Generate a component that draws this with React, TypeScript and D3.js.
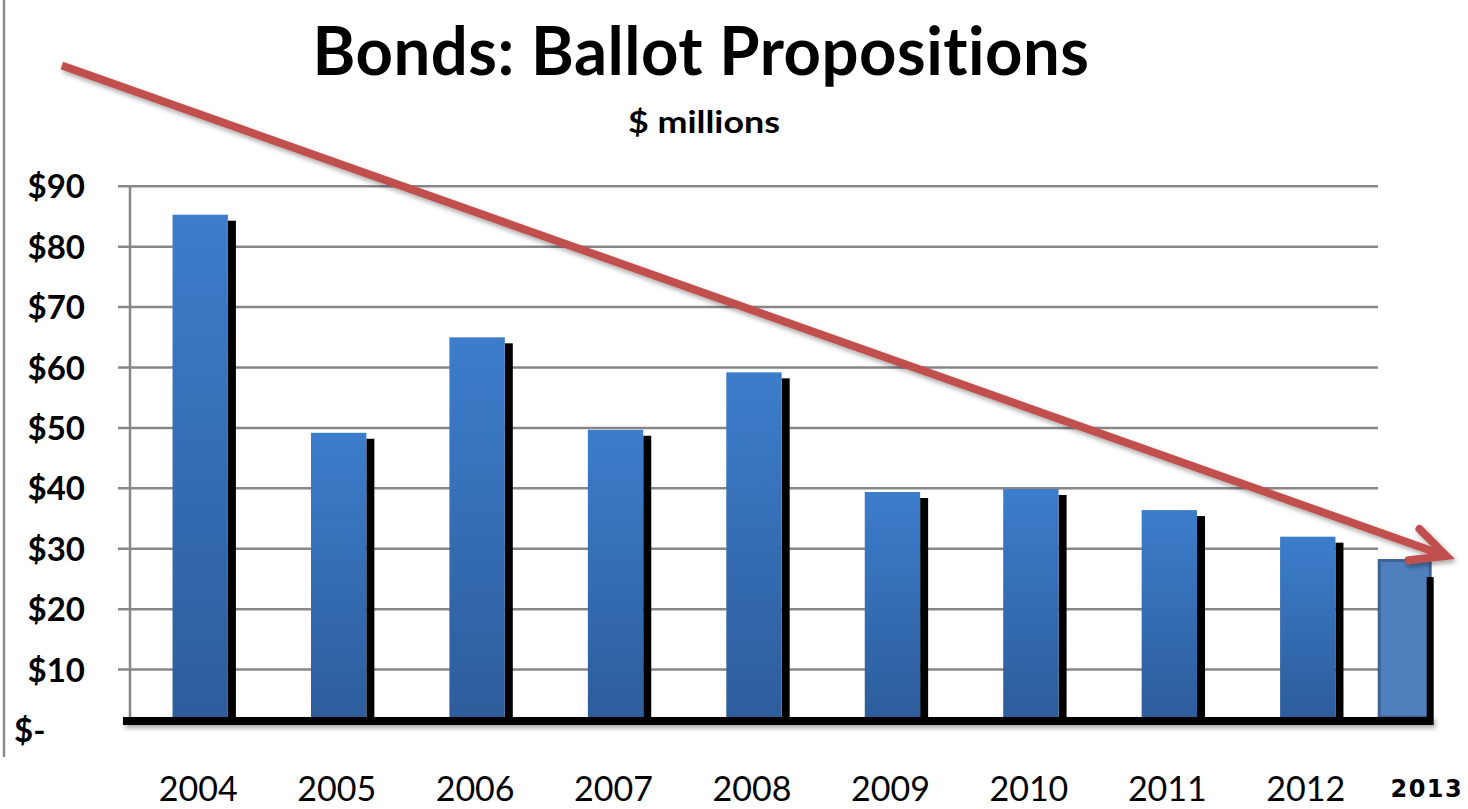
import * as d3 from "d3";

// bond totals, $ millions
const years = ["2004", "2005", "2006", "2007", "2008", "2009", "2010", "2011", "2012"];
const amounts = [85.3, 49.2, 65, 49.7, 59.2, 39.4, 39.9, 36.4, 32.0];
const projectedYear = "2013";
const projectedAmount = 28.3;
const yTicks = [0, 10, 20, 30, 40, 50, 60, 70, 80, 90];
// trend arrow in [category index, value]
const trendFrom = [-1, 110];
const trendTo = [9, 28.8];

const W = 1468;
const H = 809;
const FONT = "Lato, 'Open Sans', sans-serif";
const noLig = { fontVariantLigatures: "none", fontFeatureSettings: '"liga" 0, "clig" 0, "dlig" 0' };

export default function App() {
  const x = d3.scaleBand<string>().domain(years).range([131, 1377]).paddingInner(0.6).paddingOuter(0.3);
  const y = d3.scaleLinear().domain([0, 90]).range([730, 186.3]);
  const bw = x.bandwidth();
  const step = x.step();
  const idx = d3
    .scaleLinear()
    .domain([0, 1])
    .range([(x(years[0]) ?? 0) + bw / 2, (x(years[0]) ?? 0) + bw / 2 + step]);

  const baseTop = y(0) - 13;
  const gridX0 = x.range()[0] - 13;
  const gridX1 = x.range()[1] + 1;

  // arrow geometry
  const ax0 = idx(trendFrom[0]);
  const ay0 = y(trendFrom[1]);
  const ax1 = idx(trendTo[0]);
  const ay1 = y(trendTo[1]);
  const ang = Math.atan2(ay1 - ay0, ax1 - ax0);
  const armLen = 38;
  const armA = 0.45;
  const p1 = [ax1 - armLen * Math.cos(ang - armA), ay1 - armLen * Math.sin(ang - armA)];
  const p2 = [ax1 - armLen * Math.cos(ang + armA), ay1 - armLen * Math.sin(ang + armA)];
  const linePath = d3.path();
  linePath.moveTo(ax0, ay0);
  linePath.lineTo(ax1 - 4 * Math.cos(ang), ay1 - 4 * Math.sin(ang));
  const headPath = d3.path();
  headPath.moveTo(p1[0], p1[1]);
  headPath.lineTo(ax1, ay1);
  headPath.lineTo(p2[0], p2[1]);

  const projX = idx(8.7) - 27;
  const projW = 54;

  return (
    <svg width={W} height={H} style={{ position: "absolute", left: 0, top: 0, background: "#fff", ...noLig }}>
      <defs>
        <linearGradient id="barGrad" x1="0" y1="0" x2="0" y2="1">
          <stop offset="0" stopColor="#3c7dcc" />
          <stop offset="1" stopColor="#2d5d9b" />
        </linearGradient>
        <filter id="shadow" x="-5%" y="-20%" width="110%" height="200%">
          <feDropShadow dx="2" dy="3" stdDeviation="2.5" floodColor="#000" floodOpacity="0.35" />
        </filter>
      </defs>

      {/* left frame edge */}
      <line x1={4} x2={4} y1={0} y2={757} stroke="#8a8a8a" strokeWidth={2.5} />

      <text x={701} y={75} textAnchor="middle" fontFamily={FONT} fontWeight={700} fontSize={67}
        letterSpacing={0.5} textLength={777} lengthAdjust="spacingAndGlyphs" fill="#000" style={noLig}>
        Bonds: Ballot Propositions
      </text>
      <text x={704} y={133} textAnchor="middle" fontFamily={FONT} fontWeight={700} fontSize={31}
        textLength={152} lengthAdjust="spacingAndGlyphs" fill="#000">
        $ millions
      </text>

      {/* gridlines */}
      {yTicks.filter((t) => t > 0).map((t) => (
        <line key={t} x1={gridX0} x2={gridX1} y1={y(t)} y2={y(t)} stroke="#878787" strokeWidth={2.5} />
      ))}
      <line x1={gridX0 + 12} x2={gridX0 + 12} y1={y(90)} y2={baseTop} stroke="#878787" strokeWidth={2.5} />

      {/* y labels */}
      {yTicks.map((t) => (
        <text key={t} x={t === 0 ? 14 : 85} y={y(t) + 12} textAnchor={t === 0 ? "start" : "end"}
          fontFamily={FONT} fontWeight={700} fontSize={33} fill="#000">
          {t === 0 ? "$-" : `$${t}`}
        </text>
      ))}

      {/* bars with black side */}
      {years.map((yr, i) => (
        <g key={yr}>
          <rect x={(x(yr) ?? 0) + bw} y={y(amounts[i]) + 6} width={8} height={baseTop - y(amounts[i]) - 6} fill="#000" />
          <rect x={x(yr)} y={y(amounts[i])} width={bw} height={baseTop - y(amounts[i])} fill="url(#barGrad)" />
        </g>
      ))}

      {/* projected 2013 */}
      <rect x={projX + 1.5} y={y(projectedAmount) + 1.5} width={projW - 3} height={baseTop - y(projectedAmount) - 1.5}
        fill="#4f80bd" stroke="#3b6394" strokeWidth={3} />
      <rect x={projX + projW - 5} y={y(projectedAmount) + 18} width={7} height={baseTop - y(projectedAmount) - 18} fill="#000" />

      {/* baseline */}
      <rect x={gridX0 + 5} y={baseTop} width={projX + projW - gridX0 - 3} height={8} fill="#000" filter="url(#shadow)" />

      {/* x labels */}
      {years.map((yr) => (
        <text key={yr} x={(x(yr) ?? 0) + bw / 2 - 2} y={801} textAnchor="middle" fontFamily={FONT} fontSize={34} fill="#000">
          {yr}
        </text>
      ))}
      <text x={idx(8.86)} y={797} textAnchor="middle" fontFamily="'DejaVu Sans', sans-serif" fontWeight={700}
        fontSize={24} letterSpacing={1.5} fill="#000">
        {projectedYear}
      </text>

      {/* trend arrow */}
      <g filter="url(#shadow)">
        <path d={linePath.toString()} fill="none" stroke="#c0504d" strokeWidth={8} />
        <path d={headPath.toString()} fill="none" stroke="#c0504d" strokeWidth={8} strokeLinecap="round"
          strokeLinejoin="miter" />
      </g>
    </svg>
  );
}
